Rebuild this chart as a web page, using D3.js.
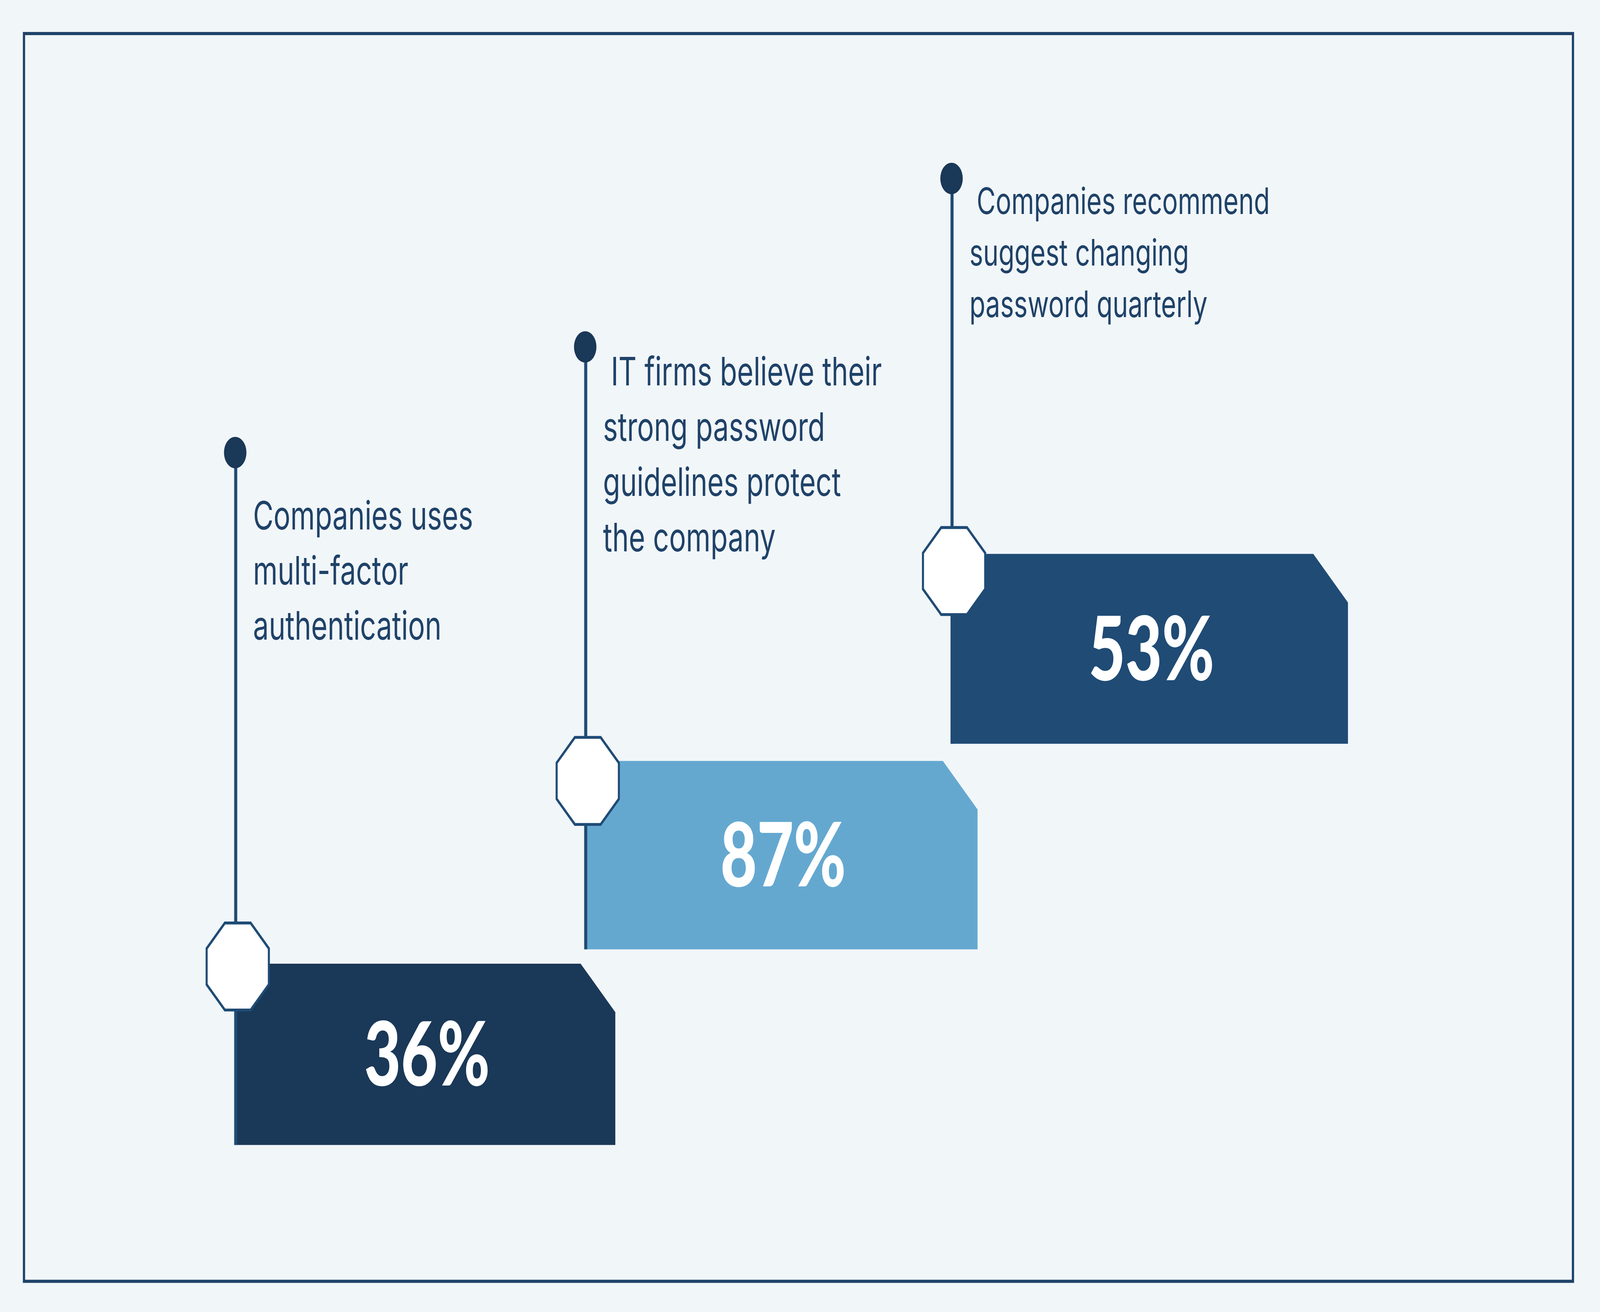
<!DOCTYPE html>
<html><head><meta charset="utf-8">
<script src="https://cdn.jsdelivr.net/npm/d3@7/dist/d3.min.js"></script>
<style>html,body{margin:0;padding:0;background:#f1f6f9;overflow:hidden;width:100vw;height:100vh}svg{display:block}</style>
</head><body><svg id="c"></svg>
<script>
const categories = ["mfa", "guidelines", "quarterly"];
const values = [36, 87, 53];
const valueLabels = ["36%", "87%", "53%"];
const descriptions = [
  ["Companies uses", "multi-factor", "authentication"],
  [" IT firms believe their", "strong password", "guidelines protect", "the company"],
  [" Companies recommend", "suggest changing", "password quarterly"]
];
const fills = ["#1a3857", "#64a8d0", "#1f4b75"];

const W = 1568, H = 919;
const svg = d3.select("#c").attr("width", "100vw").attr("height", "100vh")
  .attr("viewBox", `0 0 ${W} ${H}`).attr("preserveAspectRatio", "none");
svg.append("rect").attr("width", W).attr("height", H).attr("fill", "#f1f6f9");
svg.append("rect").attr("x", 23.5).attr("y", 23.5).attr("width", 1518).attr("height", 874)
  .attr("fill", "none").attr("stroke", "#1f4268").attr("stroke-width", 2.2);

// layout scales (step staircase)
const x = d3.scaleOrdinal().domain(categories).range([230, 573, 932]);
const bw = d3.scaleOrdinal().domain(categories).range([373, 385, 389]);
const yTop = d3.scaleOrdinal().domain(categories).range([675, 533, 388]);
const bh = d3.scaleOrdinal().domain(categories).range([127, 132, 133]);
const dotY = d3.scaleOrdinal().domain(categories).range([317, 243, 125]);
const octY = d3.scaleOrdinal().domain(categories).range([677, 547, 400]);
const textY = d3.scaleOrdinal().domain(categories).range([371, 270, 150]);
const lineH = d3.scaleOrdinal().domain(categories).range([38.5, 38.7, 36]);
const fs = d3.scaleOrdinal().domain(categories).range([27.5, 27.5, 25.5]);

const data = categories.map((c, i) => ({c, v: values[i], label: valueLabels[i], desc: descriptions[i], fill: fills[i]}));
const g = svg.selectAll("g.item").data(data).join("g");

g.append("path").attr("fill", d => d.fill).attr("d", d => {
  const x0 = x(d.c), y0 = yTop(d.c), w = bw(d.c), h = bh(d.c), cut = 34;
  return `M${x0},${y0}H${x0 + w - cut}L${x0 + w},${y0 + cut}V${y0 + h}H${x0}Z`;
});
g.append("line").attr("x1", d => x(d.c) + 1).attr("x2", d => x(d.c) + 1)
  .attr("y1", d => dotY(d.c)).attr("y2", d => yTop(d.c) + bh(d.c))
  .attr("stroke", "#1f4b75").attr("stroke-width", 3);
g.append("circle").attr("cx", d => x(d.c) + 0.5).attr("cy", d => dotY(d.c)).attr("r", 11)
  .attr("fill", "#1a3857");
g.append("path").attr("fill", "#fff").attr("stroke", "#1f4b75").attr("stroke-width", 2)
  .attr("d", d => {
    const cx = x(d.c) + 3, cy = octY(d.c), r = 33;
    const pts = d3.range(8).map(k => {
      const a = Math.PI / 8 + k * Math.PI / 4;
      return [cx + r * Math.cos(a), cy + r * Math.sin(a)];
    });
    return "M" + pts.join("L") + "Z";
  });
g.append("text").attr("x", d => x(d.c) + bw(d.c) / 2 + 2).attr("y", d => yTop(d.c) + bh(d.c) / 2 + 22)
  .attr("text-anchor", "middle").attr("fill", "#fff")
  .attr("font-family", "Lato, 'DejaVu Sans', sans-serif").attr("font-weight", 900)
  .attr("font-size", 62).text(d => d.label);
g.each(function(d) {
  const t = d3.select(this).append("text").attr("fill", "#1f4268")
    .attr("font-family", "Inter, 'Noto Sans', sans-serif").attr("font-size", fs(d.c))
    .attr("xml:space", "preserve");
  d.desc.forEach((s, i) => t.append("tspan").attr("x", x(d.c) + 18)
    .attr("y", textY(d.c) + i * lineH(d.c)).text(s));
});
</script></body></html>
